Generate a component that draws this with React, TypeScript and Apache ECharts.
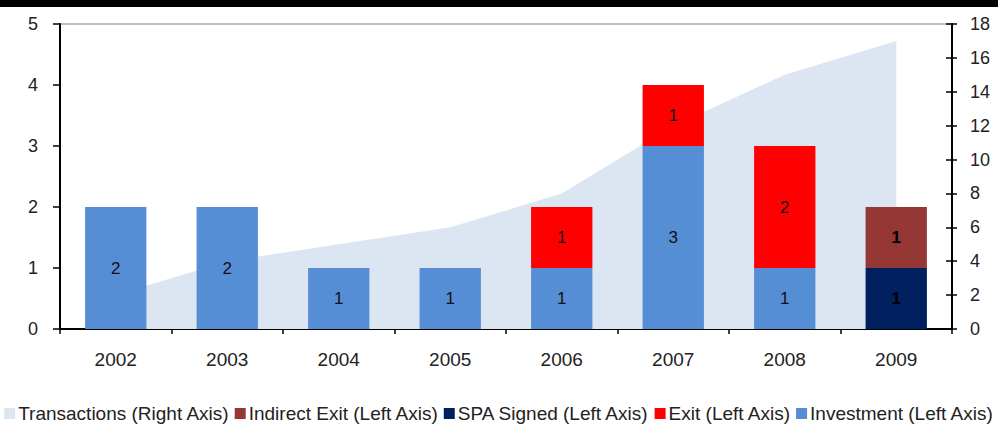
import React, { useEffect, useRef } from "react";
import * as echarts from "echarts";

const years = ["2002", "2003", "2004", "2005", "2006", "2007", "2008", "2009"];
const transactions = [2, 4, 5, 6, 8, 12, 15, 17];
const investment = [2, 2, 1, 1, 1, 3, 1, null];
const exitVals = [null, null, null, null, 1, 1, 2, null];
const spaSigned = [null, null, null, null, null, null, null, 1];
const indirectExit = [null, null, null, null, null, null, null, 1];
const leftTicks = { min: 0, max: 5, interval: 1 };
const rightTicks = { min: 0, max: 18, interval: 2 };

const FONT = "'Liberation Sans', Arial, Helvetica, sans-serif";
const TXT = "#222";

export default function App() {
  const ref = useRef<HTMLDivElement>(null);
  useEffect(() => {
    document.body.style.margin = "0";
    if (!ref.current) return;
    const chart = echarts.init(ref.current, undefined, { renderer: "svg" });
    const barLabel = {
      show: true,
      position: "inside",
      color: "#111",
      fontSize: 17,
      fontFamily: FONT,
    };
    chart.setOption({
      animation: false,
      textStyle: { fontFamily: FONT },
      graphic: [
        { type: "rect", left: 0, top: 0, shape: { width: 998, height: 7 }, style: { fill: "#000" } },
      ],
      grid: {
        left: 60,
        right: 46,
        top: 24,
        bottom: 97,
        show: true,
        borderColor: "#bfbfbf",
        borderWidth: 2,
        backgroundColor: "transparent",
      },
      legend: {
        bottom: 3,
        left: "center",
        padding: 0,
        icon: "rect",
        itemWidth: 11,
        itemHeight: 11,
        itemGap: 5,
        textStyle: { fontSize: 19, color: TXT, fontFamily: FONT, padding: [0, 0, 0, -2] },
        data: [
          "Transactions (Right Axis)",
          "Indirect Exit (Left Axis)",
          "SPA Signed (Left Axis)",
          "Exit (Left Axis)",
          "Investment (Left Axis)",
        ],
      },
      xAxis: {
        type: "category",
        data: years,
        boundaryGap: true,
        axisLine: { lineStyle: { color: "#000", width: 2 } },
        axisTick: { show: true, length: 5, lineStyle: { color: "#000", width: 1.5 } },
        axisLabel: { fontSize: 19, color: TXT, margin: 21, fontFamily: FONT },
      },
      yAxis: [
        {
          type: "value",
          position: "left",
          ...leftTicks,
          axisLine: { show: true, lineStyle: { color: "#000", width: 2 } },
          axisTick: { show: true, length: 7, lineStyle: { color: "#000", width: 1.5 } },
          axisLabel: { fontSize: 18, color: TXT, margin: 22, fontFamily: FONT },
          splitLine: { show: false },
        },
        {
          type: "value",
          position: "right",
          ...rightTicks,
          axisLine: { show: true, lineStyle: { color: "#000", width: 2 } },
          axisTick: { show: true, length: 5, lineStyle: { color: "#000", width: 1.5 } },
          axisLabel: { fontSize: 18, color: TXT, margin: 18, fontFamily: FONT },
          splitLine: { show: false },
        },
        {
          type: "value",
          position: "right",
          ...rightTicks,
          axisLine: { show: false },
          axisTick: { show: true, inside: true, length: 6, lineStyle: { color: "#000", width: 1.5 } },
          axisLabel: { show: false },
          splitLine: { show: false },
        },
      ],
      series: [
        {
          name: "Transactions (Right Axis)",
          type: "line",
          yAxisIndex: 1,
          data: transactions,
          symbol: "none",
          lineStyle: { width: 0 },
          itemStyle: { color: "#dce6f2" },
          areaStyle: { color: "#dce6f2", opacity: 1 },
          z: 1,
        },
        {
          name: "Investment (Left Axis)",
          type: "bar",
          stack: "a",
          data: investment,
          barWidth: "55%",
          itemStyle: { color: "#558ed5" },
          label: barLabel,
          z: 3,
        },
        {
          name: "Exit (Left Axis)",
          type: "bar",
          stack: "a",
          data: exitVals,
          barWidth: "55%",
          itemStyle: { color: "#ff0000" },
          label: barLabel,
          z: 3,
        },
        {
          name: "SPA Signed (Left Axis)",
          type: "bar",
          stack: "a",
          data: spaSigned,
          barWidth: "55%",
          itemStyle: { color: "#002060" },
          label: { ...barLabel, color: "#000", fontWeight: "bold" },
          z: 3,
        },
        {
          name: "Indirect Exit (Left Axis)",
          type: "bar",
          stack: "a",
          data: indirectExit,
          barWidth: "55%",
          itemStyle: { color: "#953735" },
          label: { ...barLabel, color: "#000", fontWeight: "bold" },
          z: 3,
        },
      ],
    });
    return () => chart.dispose();
  }, []);
  return <div ref={ref} style={{ width: 998, height: 426 }} />;
}
